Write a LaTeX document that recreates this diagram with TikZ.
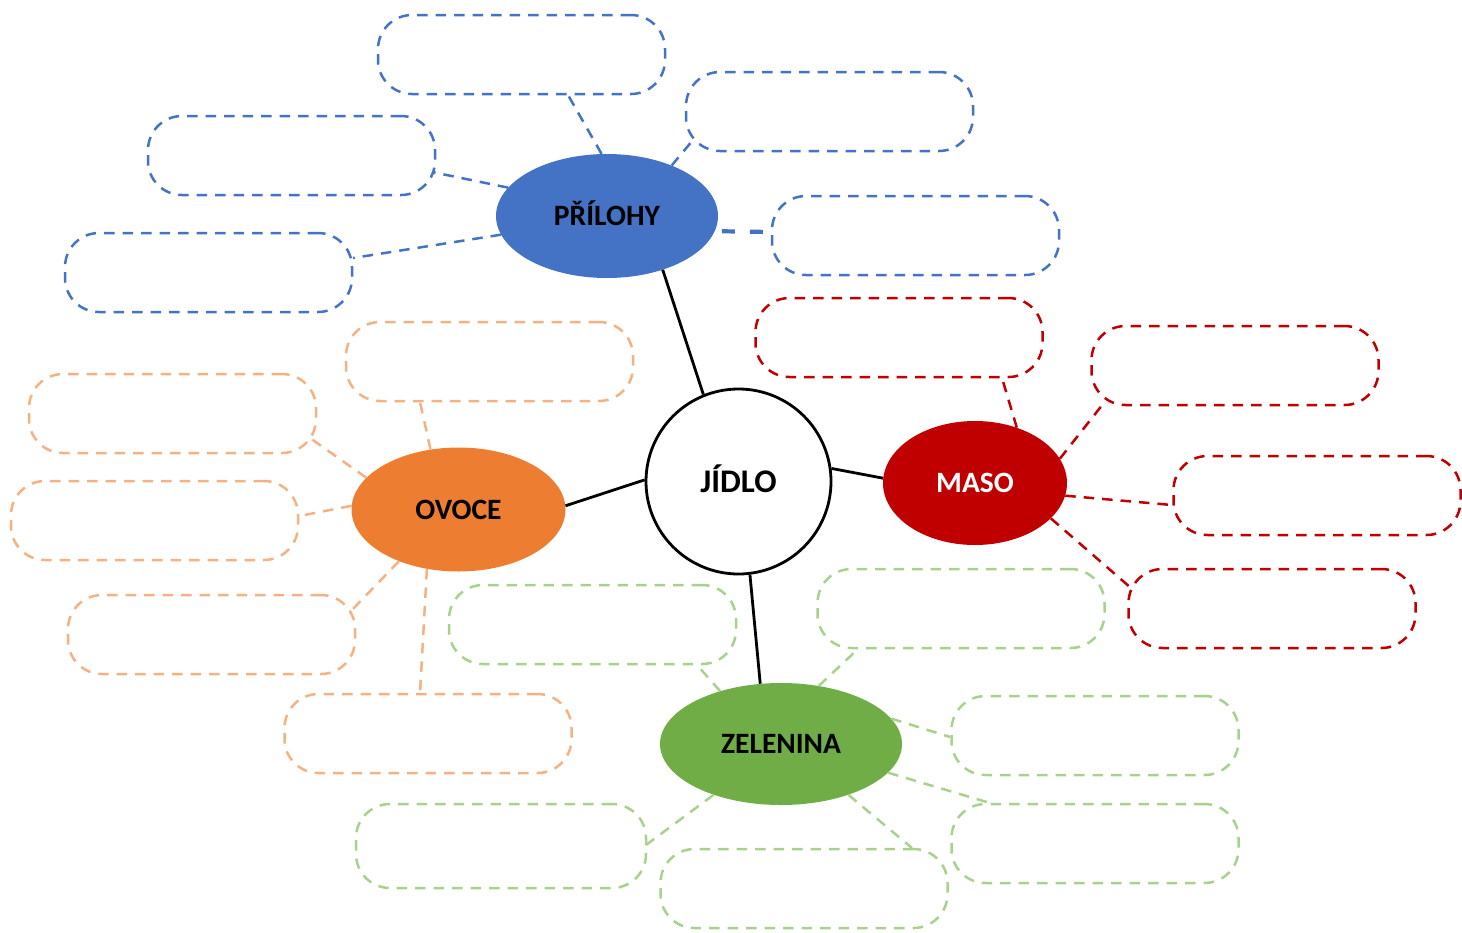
\documentclass[tikz,border=0pt]{standalone}
\usepackage{fontspec}
\setmainfont{Carlito}
\usetikzlibrary{shapes.geometric}
\definecolor{cblue}{HTML}{4472C4}
\definecolor{cred}{HTML}{C00000}
\definecolor{corange}{HTML}{ED7D31}
\definecolor{corangel}{HTML}{F4B183}
\definecolor{cgreen}{HTML}{70AD47}
\definecolor{cgreenl}{HTML}{A9D18E}
\begin{document}
\begin{tikzpicture}[x=1pt,y=-1pt,
  box/.style={draw, dash pattern=on 10.5pt off 8pt, line width=2.5pt, rounded corners=34pt,
              minimum width=287pt, minimum height=79pt, inner sep=0pt},
  hub/.style={ellipse, inner sep=0pt, text height=19pt, text depth=0pt,
              font=\fontsize{29.5pt}{34pt}\selectfont\bfseries},
  dline/.style={dash pattern=on 10.5pt off 8pt, line width=2.5pt},
  solidline/.style={black, line width=2.8pt}]
\useasboundingbox (0,0) rectangle (1462,932);

% central node
\node[circle, draw=black, line width=2.8pt, fill=white, minimum size=185pt, inner sep=0pt,
      text height=21pt, text depth=0pt, font=\fontsize{33pt}{38pt}\selectfont\bfseries]
      (jidlo) at (738.5,481.5) {JÍDLO};

% hubs
\node[hub, fill=cblue, minimum width=222pt, minimum height=124pt] (prilohy) at (607,216) {PŘÍLOHY};
\node[hub, fill=cred, text=white, minimum width=184pt, minimum height=124pt] (maso) at (975,483) {MASO};
\node[hub, fill=corange, minimum width=214pt, minimum height=124pt] (ovoce) at (458.5,509.5) {OVOCE};
\node[hub, fill=cgreen, minimum width=242pt, minimum height=122pt] (zelenina) at (781,744) {ZELENINA};

% blue boxes
\node[box, draw=cblue] (b1) at (521.5,54.5) {};
\node[box, draw=cblue] (b2) at (829.5,111.5) {};
\node[box, draw=cblue] (b3) at (291.5,155.5) {};
\node[box, draw=cblue] (b4) at (208.5,272.5) {};
\node[box, draw=cblue] (b5) at (915.5,235.5) {};
% red boxes
\node[box, draw=cred] (r1) at (899,337.5) {};
\node[box, draw=cred] (r2) at (1235,365.5) {};
\node[box, draw=cred] (r3) at (1317,495.5) {};
\node[box, draw=cred] (r4) at (1272,608.5) {};
% orange boxes
\node[box, draw=corangel] (o1) at (489.5,361.5) {};
\node[box, draw=corangel] (o2) at (172.5,413.5) {};
\node[box, draw=corangel] (o3) at (154.5,520.5) {};
\node[box, draw=corangel] (o4) at (211.5,634.5) {};
\node[box, draw=corangel] (o5) at (428,733.5) {};
% green boxes
\node[box, draw=cgreenl] (g1) at (592.5,624.5) {};
\node[box, draw=cgreenl] (g2) at (961,608.5) {};
\node[box, draw=cgreenl] (g3) at (1095,735.5) {};
\node[box, draw=cgreenl] (g4) at (1095,843.5) {};
\node[box, draw=cgreenl, minimum width=290pt, minimum height=84pt] (g5) at (501,846) {};
\node[box, draw=cgreenl] (g6) at (804,888.5) {};

% black connectors
\draw[solidline] (jidlo.112.5) -- (prilohy.-44);
\draw[solidline] (jidlo.179) -- (ovoce.2);
\draw[solidline] (jidlo.8) -- (maso.177);
\draw[solidline] (jidlo.-83) -- (zelenina.109);

% blue connectors
\draw[dline, cblue] (prilohy.95) -- ([shift={(46.5,40.5)}]b1.center);
\draw[dline, cblue] (prilohy.38) -- ([shift={(-136.5,28.5)}]b2.center);
\draw[dline, cblue] (prilohy.164) -- ([shift={(140.5,16.5)}]b3.center);
\draw[dline, cblue] (prilohy.190) -- ([shift={(144.5,-14.5)}]b4.center);
\draw[cblue, line width=4.2pt, dash pattern=on 13pt off 15pt, shorten <=7pt]
  (prilohy.-8) -- ([shift={(-144.5,-3.5)}]b5.center);

% red connectors
\draw[dline, cred] (maso.53) -- ([shift={(103,40.5)}]r1.center);
\draw[dline, cred] (maso.16) -- ([shift={(-132,38.5)}]r2.center);
\draw[dline, cred] (maso.-8) -- ([shift={(-145,9.5)}]r3.center);
\draw[dline, cred] (maso.-25) -- ([shift={(-141,-20.5)}]r4.center);

% orange connectors
\draw[dline, corangel] (ovoce.115) -- ([shift={(-69.5,40.5)}]o1.center);
\draw[dline, corangel] (ovoce.161) -- ([shift={(137.5,24.5)}]o2.center);
\draw[dline, corangel] (ovoce.178) -- ([shift={(145,-4.5)}]o3.center);
\draw[dline, corangel] (ovoce.221) -- ([shift={(138.5,-22.5)}]o4.center);
\draw[dline, corangel] (ovoce.242) -- ([shift={(-8,-40.5)}]o5.center);

% green connectors
\draw[dline, cgreenl] (zelenina.139) -- ([shift={(104.5,40.5)}]g1.center);
\draw[dline, cgreenl] (zelenina.57) -- ([shift={(-103,40.5)}]g2.center);
\draw[dline, cgreenl] (zelenina.13) -- ([shift={(-145,1.5)}]g3.center);
\draw[dline, cgreenl] (zelenina.-15) -- ([shift={(-105,-40.5)}]g4.center);
\draw[dline, cgreenl] (zelenina.217) -- ([shift={(145,-1)}]g5.center);
\draw[dline, cgreenl] (zelenina.-37) -- ([shift={(108,-40.5)}]g6.center);
\end{tikzpicture}
\end{document}
